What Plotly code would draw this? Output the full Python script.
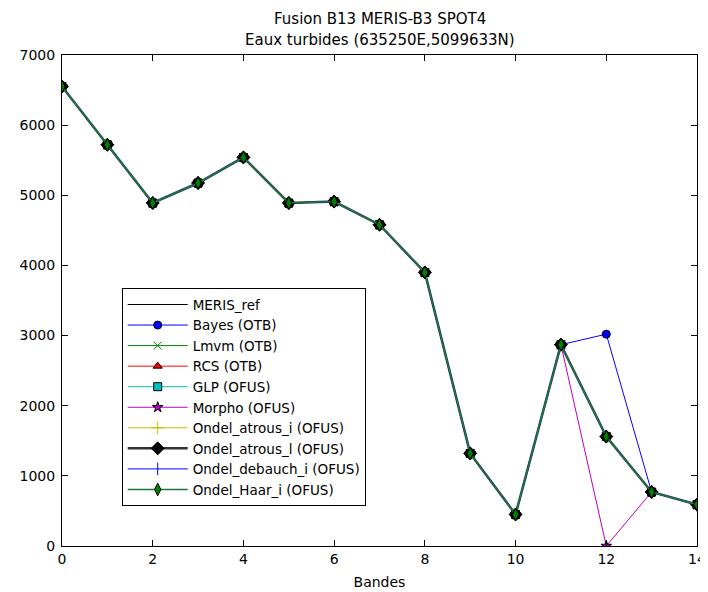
import plotly.graph_objects as go

bands = list(range(15))
meris_ref = [6550, 5720, 4890, 5175, 5540, 4890, 4910, 4580, 3900, 1320, 450, 2870, 1560, 770, 590]
bayes = [6550, 5720, 4890, 5175, 5540, 4890, 4910, 4580, 3900, 1320, 450, 2870, 3020, 770, 590]
lmvm = list(meris_ref)
rcs = list(meris_ref)
glp = list(meris_ref)
morpho = [6550, 5720, 4890, 5175, 5540, 4890, 4910, 4580, 3900, 1320, 450, 2870, 0, 770, 590]
atrous_i = list(meris_ref)
atrous_l = list(meris_ref)
debauch_i = list(meris_ref)
haar_i = list(meris_ref)

title_lines = ["Fusion B13 MERIS-B3 SPOT4", "Eaux turbides (635250E,5099633N)"]

series = [
    ("MERIS_ref", meris_ref, "black", None, "black", "black", 8, 1),
    ("Bayes (OTB)", bayes, "blue", "circle", "blue", "black", 8, 1),
    ("Lmvm (OTB)", lmvm, "#008000", "x-thin-open", "#008000", "#008000", 8, 1),
    ("RCS (OTB)", rcs, "red", "triangle-up", "red", "black", 8, 1),
    ("GLP (OFUS)", glp, "#00bfbf", "square", "#00bfbf", "black", 8, 1),
    ("Morpho (OFUS)", morpho, "#bf00bf", "star", "#bf00bf", "black", 8, 1),
    ("Ondel_atrous_i (OFUS)", atrous_i, "#bfbf00", "cross-thin-open", "#bfbf00", "#bfbf00", 9, 1),
    ("Ondel_atrous_l (OFUS)", atrous_l, "#333333", "diamond", "black", "black", 10, 2.5),
    ("Ondel_debauch_i (OFUS)", debauch_i, "blue", "line-ns-open", "blue", "blue", 9, 1),
    ("Ondel_Haar_i (OFUS)", haar_i, "#1a7a45", "diamond-tall", "#008000", "black", 9, 1.5),
]

fig = go.Figure()
for name, ys, lc, sym, mc, mlc, ms, lw in series:
    if sym is None:
        fig.add_trace(go.Scatter(x=bands, y=ys, name=name, mode="lines",
                                 line=dict(color=lc, width=lw)))
    else:
        fig.add_trace(go.Scatter(x=bands, y=ys, name=name, mode="lines+markers",
                                 line=dict(color=lc, width=lw),
                                 marker=dict(symbol=sym, size=ms, color=mc,
                                             line=dict(color=mlc, width=1))))

axis_common = dict(showgrid=False, zeroline=False, showline=True, linecolor="black",
                   linewidth=1, mirror="ticks", ticks="inside", ticklen=6,
                   tickcolor="black", tickfont=dict(size=14, color="black"),
                   automargin=False)

for i, (txt, shift) in enumerate(zip(title_lines, [36, 15])):
    fig.add_annotation(text=txt, xref="paper", yref="paper", x=0.5, y=1,
                       xanchor="center", yanchor="middle", yshift=shift,
                       showarrow=False, font=dict(size=15, color="black"))

fig.update_layout(
    width=700, height=584,
    paper_bgcolor="white", plot_bgcolor="white",
    font=dict(family="DejaVu Sans", color="black"),
    margin=dict(l=54, r=11, t=47, b=46),
    xaxis=dict(range=[0, 14], dtick=2, title=dict(text="Bandes", font=dict(size=14), standoff=11),
               **axis_common),
    yaxis=dict(range=[0, 7000], dtick=1000, ticklabelstandoff=3, **axis_common),
    legend=dict(x=0.094, y=0.525, xanchor="left", yanchor="top",
                bordercolor="black", borderwidth=1, bgcolor="white",
                font=dict(size=13.5, color="black"), tracegroupgap=0, itemwidth=60),
    showlegend=True,
)

fig.write_html("out.html")
